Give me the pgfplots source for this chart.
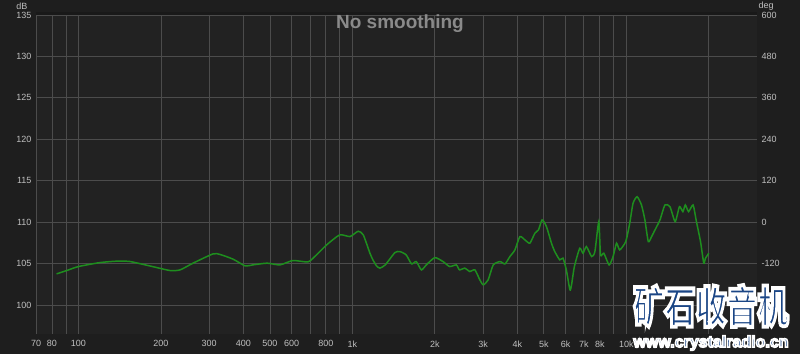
\documentclass[border=0pt]{standalone}
\usepackage{pgfplots}
\pgfplotsset{compat=1.18}
\usepackage{fontspec}
\setmainfont{Liberation Sans}
\newfontfamily\cjk{Noto Sans CJK SC}
\definecolor{bg}{HTML}{1E1E1E}
\definecolor{plotbg}{HTML}{222222}
\definecolor{gridc}{HTML}{4C4C4C}
\definecolor{tickc}{HTML}{C0C0C0}
\definecolor{titlec}{HTML}{8A8A8A}
\definecolor{curve}{HTML}{1E8E1E}
\definecolor{wmblue}{HTML}{1A4585}
\newcommand\outlined[2]{\special{pdf:literal direct 1 1 1 RG #1 w 2 Tr}#2\special{pdf:literal direct 0 Tr}}
\begin{document}
\begin{tikzpicture}[x=1pt,y=1pt]
\fill[bg] (0,0) rectangle (800,354);
\useasboundingbox (0,0) rectangle (800,354);
\begin{axis}[
  at={(36pt,20pt)}, anchor=south west, scale only axis,
  width=721pt, height=319pt,
  xmode=log, xmin=70, xmax=30000, ymin=96.5, ymax=135,
  axis background/.style={fill=plotbg},
  axis line style={draw=none},
  major tick length=0pt,
  grid=major, grid style={gridc, line width=0.8pt},
  xtick={70,80,90,100,200,300,400,500,600,700,800,900,1000,2000,3000,4000,5000,6000,7000,8000,9000,10000,20000},
  xticklabels={70,80,,100,200,300,400,500,600,,800,,1k,2k,3k,4k,5k,6k,7k,8k,,10k,},
  ytick={100,105,110,115,120,125,130,135},
  /pgf/number format/assume math mode=true,
  tick label style={font=\fontsize{9}{10}\selectfont, text=tickc},
  xticklabel style={yshift=-3pt},
  yticklabel style={xshift=-1pt},
]
\addplot[curve, line width=1.5pt, smooth, tension=0.35] coordinates {
(83.2,103.76) (90.6,104.16) (100,104.64) (119.8,105.12) (138,105.29) (154,105.25)
(182,104.72) (216,104.16) (235,104.24) (262,105.05) (310,106.17) (329,106.1)
(367,105.53) (406,104.72) (433,104.84) (488,105.05) (544,104.84) (606,105.37)
(688,105.2) (729,105.85) (805,107.25) (899,108.46) (980,108.26) (1050,108.9)
(1096,108.46) (1159,106.25) (1188,105.45) (1225,104.72) (1260,104.45) (1318,104.84)
(1430,106.33) (1490,106.45) (1572,106.05) (1644,104.96) (1711,105.24) (1786,104.24)
(1862,104.84) (1999,105.72) (2143,105.24) (2265,104.64) (2396,104.84) (2460,104.24)
(2570,104.45) (2685,104.04) (2800,104.24) (2920,103.03) (3005,102.43) (3130,103.03)
(3268,104.84) (3458,105.24) (3607,104.96) (3760,105.85) (3921,106.65) (4088,108.26)
(4263,107.86) (4445,107.46) (4635,108.66) (4780,109.07) (4927,110.27) (5110,109.47)
(5330,107.46) (5480,106.45) (5714,105.45) (5874,105.65) (6040,104.24) (6224,101.83)
(6310,102.43) (6464,104.64) (6760,106.85) (6950,106.25) (7150,107.05) (7470,105.85)
(7680,106.45) (7935,110.06) (8050,106.05) (8280,106.25) (8650,104.84) (8950,105.85)
(9210,107.46) (9460,106.65) (9950,107.65) (10290,109.86) (10580,112.27) (10950,113.07)
(11360,112.07) (11690,110.27) (12030,107.65) (12370,108.26) (12730,109.07) (13270,110.27)
(13830,112.07) (14430,111.87) (15080,110.06) (15630,111.87) (16090,111.27) (16420,112.07)
(16880,111.27) (17530,112.07) (18030,110.06) (18660,107.65) (19180,105.05) (19460,105.65)
(20010,106.25)
};
\end{axis}
\begin{axis}[
  at={(36pt,20pt)}, anchor=south west, scale only axis,
  width=721pt, height=319pt,
  xmode=log, xmin=70, xmax=30000, ymin=-324, ymax=600,
  hide x axis, axis y line*=right,
  axis line style={draw=none},
  major tick length=0pt,
  ytick={-120,0,120,240,360,480,600},
  /pgf/number format/assume math mode=true,
  tick label style={font=\fontsize{9}{10}\selectfont, text=tickc},
  yticklabel style={xshift=1pt},
]
\addplot[draw=none] coordinates {(100,0)};
\end{axis}
\draw[black!90, line width=2.5pt] (36,340.5) -- (757,340.5);
\node[text=tickc, font=\fontsize{9}{10}\selectfont] at (22,348) {dB};
\node[text=tickc, font=\fontsize{9}{10}\selectfont] at (766,348) {deg};
\node[text=titlec, font=\fontsize{19}{22}\bfseries] at (400,330) {No smoothing};
\node[text=wmblue, font=\cjk\fontsize{31}{34}\bfseries, yscale=1.4, inner sep=0] at (711,48)
  {\outlined{2.8}{矿石收音机}};
\node[text=wmblue, font=\fontsize{16}{18}\bfseries, inner sep=0] at (711,11)
  {\outlined{1.5}{www.crystalradio.cn}};
\end{tikzpicture}
\end{document}
